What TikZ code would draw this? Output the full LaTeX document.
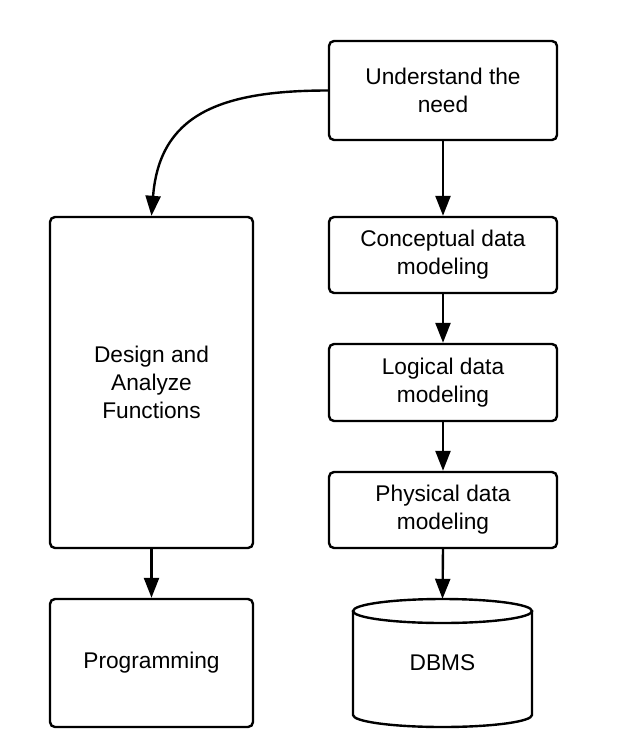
\documentclass[tikz,border=0pt]{standalone}
\usepackage{fontspec}
\setmainfont{Liberation Sans}
\usetikzlibrary{arrows.meta,positioning}

\begin{document}
\begin{tikzpicture}[x=1pt,y=-1pt,
    box/.style={draw,line width=2.4pt,rounded corners=5pt,inner sep=0pt,align=center,
        font=\fontsize{22.7}{28}\selectfont},
    flow/.style={line width=2.4pt,-{Triangle[length=20pt,width=15pt]}}]

    \useasboundingbox (0,0) rectangle (630,755);

    \node[box,minimum width=228pt,minimum height=99pt] (need) at (443,90.5) {Understand the\\need};
    \node[box,minimum width=228pt,minimum height=76pt] (concept) at (443,255) {Conceptual data\\modeling};
    \node[box,minimum width=228pt,minimum height=77pt] (logic) at (443,382.5) {Logical data\\modeling};
    \node[box,minimum width=228pt,minimum height=76pt] (phys) at (443,510) {Physical data\\modeling};

    \node[box,minimum width=203pt,minimum height=331pt] (design) at (151.5,382.5) {Design and\\Analyze\\Functions};
    \node[box,minimum width=203pt,minimum height=128pt] (prog) at (151.5,663) {Programming};

    % dbms cylinder
    \draw[line width=2.4pt,fill=white] (353,611) -- (353,715)
        arc[start angle=180,end angle=360,x radius=89.5pt,y radius=12pt] -- (532,611);
    \draw[line width=2.4pt] (442.5,611) ellipse[x radius=89.5pt,y radius=12pt];
    \node[inner sep=0pt,minimum width=179pt,minimum height=128pt,
        font=\fontsize{22.7}{28}\selectfont] (dbms) at (442.5,663) {\raisebox{-4pt}{DBMS}};

    \draw[flow] (need.west) .. controls +(-110,0) and +(8,-100) .. (design.north);
    \draw[flow] (need) -- (concept);
    \draw[flow] (concept) -- (logic);
    \draw[flow] (logic) -- (phys);
    \draw[flow] (phys.south) -- (dbms.north);
    \draw[flow] (design) -- (prog);

\end{tikzpicture}
\end{document}
